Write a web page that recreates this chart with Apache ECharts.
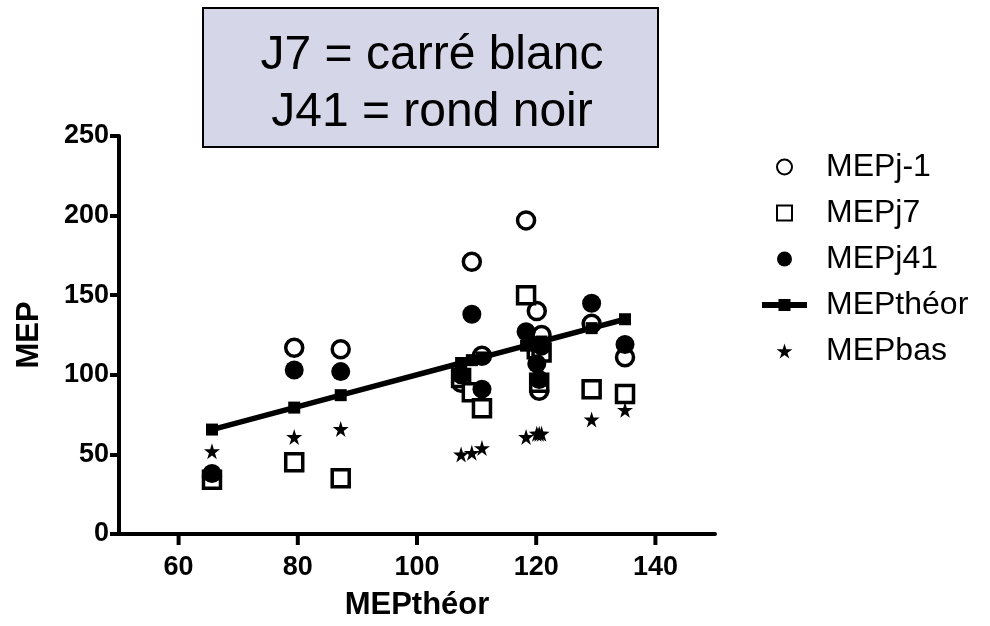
<!DOCTYPE html>
<html>
<head>
<meta charset="utf-8">
<script src="https://cdn.jsdelivr.net/npm/echarts@6/dist/echarts.min.js"></script>
<style>
html,body{margin:0;padding:0;background:#fff;}
#chart{width:990px;height:626px;}
</style>
</head>
<body>
<div id="chart"></div>
<script>
// x values (MEPthéor)
var xVals   = [65.6, 79.4, 87.2, 107.4, 109.2, 110.9, 118.3, 120.1, 120.5, 120.9, 129.3, 134.9];
var mepJ1   = [36,   117,  116,  95,    171,   112,   197,   140,   90,    125,   132,   111];
var mepJ7   = [34,   45,   35,   98,    89,    79,    150,   116,   95,    114,   91,    88];
var mepJ41  = [38,   103,  102,  100,   138,   91,    127,   107,   97,    118,   145,   119];
var mepBas  = [52,   61,   66,   50,    51,    54,    61,    63,    63,    63,    72,    78];
var xTicks  = [60, 80, 100, 120, 140];
var yTicks  = [0, 50, 100, 150, 200, 250];
var titleLines = ['J7 = carré blanc', 'J41 = rond noir'];

function pairs(ys){ return xVals.map(function(x,i){ return [x, ys[i]]; }); }
var theor = xVals.map(function(x){ return [x, x]; });

var STAR = 'path://M50,0 L61,35 L98,35 L68,57 L79,91 L50,70 L21,91 L32,57 L2,35 L39,35 Z';
var SQUARE = 'path://M0,0 L10,0 L10,10 L0,10 Z';
var FONT = '"Liberation Sans", Arial, sans-serif';

var chart = echarts.init(document.getElementById('chart'), null, {renderer:'canvas'});
chart.setOption({
  animation:false,
  backgroundColor:'#fff',
  grid:{left:119, top:136, width:596, height:399},
  xAxis:{
    type:'value', min:50, max:150, interval:10,
    name:'MEPthéor', nameLocation:'middle', nameGap:56,
    nameTextStyle:{fontFamily:FONT, fontWeight:'bold', fontSize:31, color:'#000'},
    axisLine:{show:true, onZero:false, lineStyle:{color:'#000', width:4}},
    axisTick:{show:false},
    axisLabel:{fontFamily:FONT, fontWeight:'bold', fontSize:27, color:'#000', margin:20,
      customValues: xTicks},
    splitLine:{show:false}
  },
  yAxis:{
    type:'value', min:yTicks[0], max:yTicks[yTicks.length-1], interval:50,
    name:'MEP', nameLocation:'middle', nameGap:74, nameRotate:90,
    nameTextStyle:{fontFamily:FONT, fontWeight:'bold', fontSize:31, color:'#000'},
    axisLine:{show:true, onZero:false, lineStyle:{color:'#000', width:4}},
    axisTick:{show:true, length:9, lineStyle:{color:'#000', width:4}},
    axisLabel:{fontFamily:FONT, fontWeight:'bold', fontSize:27, color:'#000', margin:10},
    splitLine:{show:false}
  },
  legend:{
    orient:'vertical', left:754, top:146, itemGap:14,
    itemWidth:45, itemHeight:15,
    textStyle:{fontFamily:FONT, fontSize:32, color:'#000', padding:[0,0,0,14]},
    data:[
      {name:'MEPj-1', icon:'circle'},
      {name:'MEPj7', icon:SQUARE},
      {name:'MEPj41', icon:'circle'},
      {name:'MEPthéor', lineStyle:{width:6, color:'#000'}},
      {name:'MEPbas', icon:STAR}
    ]
  },
  graphic:[
    {type:'rect', shape:{x:203,y:8,width:455,height:139},
     style:{fill:'#d6d6e9', stroke:'#000', lineWidth:2}},
    {type:'text', style:{text:titleLines[0], x:432, y:56, align:'center', verticalAlign:'middle',
      textAlign:'center', textVerticalAlign:'middle',
      font:'48px "Liberation Sans", Arial, sans-serif', fill:'#000'}},
    {type:'text', style:{text:titleLines[1], x:432, y:113, align:'center', verticalAlign:'middle',
      textAlign:'center', textVerticalAlign:'middle',
      font:'48px "Liberation Sans", Arial, sans-serif', fill:'#000'}}
  ],
  series:[
    {name:'xticks', type:'custom', coordinateSystem:'cartesian2d', silent:true, clip:false,
     data:xTicks.map(function(v){ return [v, yTicks[0]]; }),
     renderItem:function(params, api){
       var p = api.coord([api.value(0), api.value(1)]);
       return {type:'line', shape:{x1:p[0], y1:p[1], x2:p[0], y2:p[1]+11},
               style:{stroke:'#000', lineWidth:4}};
     }},
    {name:'MEPj-1', type:'scatter', data:pairs(mepJ1), symbol:'circle', symbolSize:17,
     itemStyle:{color:'#fff', borderColor:'#000', borderWidth:3.5, opacity:1}},
    {name:'MEPj7', type:'scatter', data:pairs(mepJ7), symbol:SQUARE, symbolSize:17,
     itemStyle:{color:'#fff', borderColor:'#000', borderWidth:3.5, opacity:1}},
    {name:'MEPj41', type:'scatter', data:pairs(mepJ41), symbol:'circle', symbolSize:19,
     itemStyle:{color:'#000', opacity:1}},
    {name:'MEPthéor', type:'line', data:theor, symbol:'rect', symbolSize:12, showSymbol:true,
     lineStyle:{color:'#000', width:5.5}, itemStyle:{color:'#000'}},
    {name:'MEPbas', type:'scatter', data:pairs(mepBas), symbol:STAR, symbolSize:16,
     itemStyle:{color:'#000', opacity:1}}
  ]
});
</script>
</body>
</html>
